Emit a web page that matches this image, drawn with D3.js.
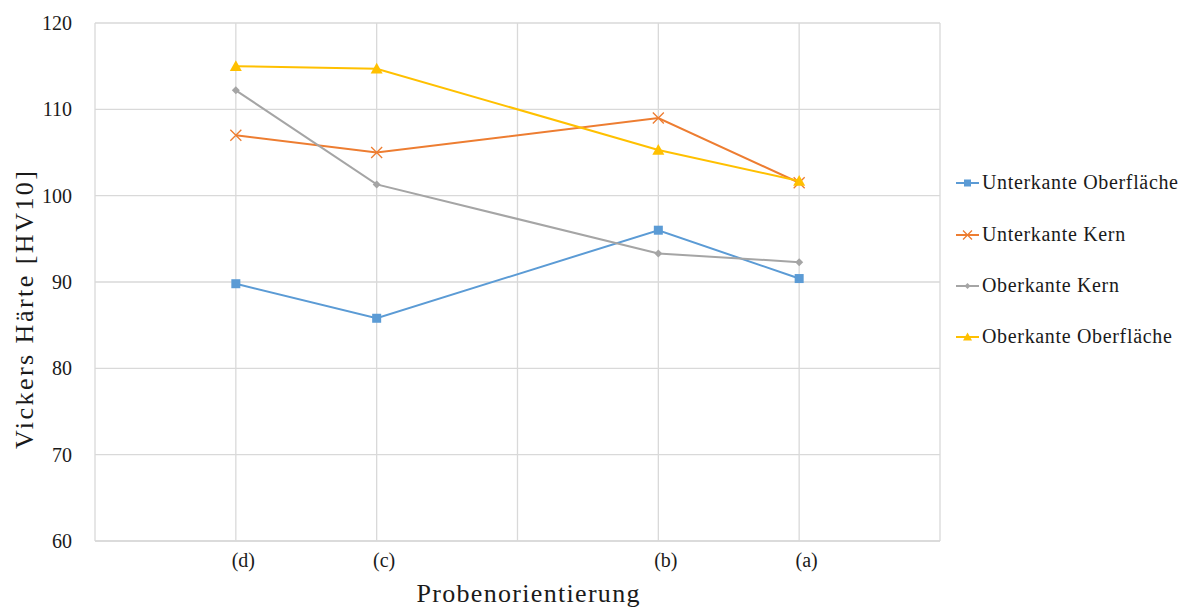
<!DOCTYPE html>
<html><head><meta charset="utf-8">
<script src="https://cdn.jsdelivr.net/npm/d3@7"></script>
<style>
html,body{margin:0;padding:0;background:#fff;}
svg{display:block;}
text{font-family:"Liberation Serif","Times New Roman",serif;fill:#1a1a1a;}
</style></head>
<body>
<svg id="chart" width="1181" height="608"></svg>
<script>
const categories = ["(d)", "(c)", "(b)", "(a)"];
const xValues = [1, 2, 4, 5];
const seriesNames = ["Unterkante Oberfläche", "Unterkante Kern", "Oberkante Kern", "Oberkante Oberfläche"];
const unterkanteOberflaeche = [89.8, 85.8, 96.0, 90.4];
const unterkanteKern = [107.0, 105.0, 109.0, 101.5];
const oberkanteKern = [112.2, 101.3, 93.3, 92.3];
const oberkanteOberflaeche = [115.0, 114.7, 105.3, 101.7];
const yTicks = [60, 70, 80, 90, 100, 110, 120];
const xGrid = [0, 1, 2, 3, 4, 5, 6];
const colors = ["#5B9BD5", "#ED7D31", "#A5A5A5", "#FFC000"];
const markers = ["square", "cross", "diamond", "triangle"];

const allSeries = [unterkanteOberflaeche, unterkanteKern, oberkanteKern, oberkanteOberflaeche];

const svg = d3.select("#chart");
const m = {left: 95, right: 940, top: 23, bottom: 541};
const x = d3.scaleLinear().domain([0, 6]).range([m.left, m.right]);
const y = d3.scaleLinear().domain([60, 120]).range([m.bottom, m.top]);

// spread text to a target width (emulating the wider original serif face)
function fitWidth(sel, target) {
  const node = sel.node();
  const n = sel.text().length;
  const w = node.getComputedTextLength();
  const sp = Math.max(0, (target - w) / Math.max(1, n - 1));
  sel.style("letter-spacing", sp + "px");
  return sp;
}

// grid
svg.append("g").selectAll("line").data(yTicks).join("line")
  .attr("x1", m.left).attr("x2", m.right)
  .attr("y1", d => y(d)).attr("y2", d => y(d))
  .attr("stroke", d => d === 60 ? "#cfcfcf" : "#d9d9d9").attr("stroke-width", 1.3);
svg.append("g").selectAll("line").data(xGrid).join("line")
  .attr("x1", d => x(d)).attr("x2", d => x(d))
  .attr("y1", m.top).attr("y2", m.bottom)
  .attr("stroke", "#d9d9d9").attr("stroke-width", 1.3);

// y axis labels
const yAxis = d3.axisLeft(y).tickValues(yTicks).tickSize(0).tickPadding(23);
const gy = svg.append("g").attr("transform", `translate(${m.left},0)`).call(yAxis);
gy.select(".domain").remove();
gy.selectAll("text").style("font-size", "20px").attr("fill", "#1a1a1a")
  .style("font-family", '"Liberation Serif",serif');

// x axis labels
const gx = svg.append("g").attr("transform", `translate(0,${m.bottom})`)
  .call(d3.axisBottom(x).tickValues(xValues).tickFormat((d, i) => categories[i]).tickSize(0).tickPadding(12));
gx.select(".domain").remove();
gx.selectAll("text").style("font-size", "20px").attr("fill", "#1a1a1a")
  .attr("dx", 7)
  .style("font-family", '"Liberation Serif",serif');

// titles
const xt = svg.append("text").attr("x", 528).attr("y", 602)
  .attr("text-anchor", "middle").style("font-size", "26px")
  .text("Probenorientierung");
const spx = fitWidth(xt, 223);
xt.attr("dx", spx / 2);
const yt = svg.append("text").attr("transform", `translate(33,310) rotate(-90)`)
  .attr("text-anchor", "middle").style("font-size", "26px")
  .text("Vickers Härte [HV10]");
const spy = fitWidth(yt, 278);
yt.attr("dx", spy / 2);

function drawMarker(g, type, color, cx, cy, s) {
  if (type === "square") {
    g.append("rect").attr("x", cx - s/2).attr("y", cy - s/2).attr("width", s).attr("height", s).attr("fill", color);
  } else if (type === "cross") {
    const h = s/2;
    g.append("path").attr("d", `M${cx-h},${cy-h}L${cx+h},${cy+h}M${cx-h},${cy+h}L${cx+h},${cy-h}`)
      .attr("stroke", color).attr("stroke-width", 1.3).attr("fill", "none");
  } else if (type === "diamond") {
    const h = s/2;
    g.append("path").attr("d", `M${cx},${cy-h}L${cx+h},${cy}L${cx},${cy+h}L${cx-h},${cy}Z`).attr("fill", color);
  } else if (type === "triangle") {
    const h = s/2;
    g.append("path").attr("d", `M${cx},${cy-h}L${cx+h},${cy+h*0.8}L${cx-h},${cy+h*0.8}Z`).attr("fill", color);
  }
}
const sizes = {square: 9, cross: 11, diamond: 8, triangle: 12};

const line = d3.line().x((d, i) => x(xValues[i])).y(d => y(d));
allSeries.forEach((vals, si) => {
  const g = svg.append("g");
  g.append("path").datum(vals).attr("d", line).attr("fill", "none")
    .attr("stroke", colors[si]).attr("stroke-width", 2);
  vals.forEach((v, i) => drawMarker(g, markers[si], colors[si], x(xValues[i]), y(v), sizes[markers[si]]));
});

// legend
const legY = [183, 235, 286, 337];
const legTexts = [];
seriesNames.forEach((name, i) => {
  const g = svg.append("g");
  const ly = legY[i];
  g.append("line").attr("x1", 956).attr("x2", 979).attr("y1", ly).attr("y2", ly)
    .attr("stroke", colors[i]).attr("stroke-width", 2);
  const s = {square: 7, cross: 9, diamond: 6, triangle: 9}[markers[i]];
  drawMarker(g, markers[i], colors[i], 967.5, ly, s);
  legTexts.push(g.append("text").attr("x", 982).attr("y", ly + 6).style("font-size", "20px").text(name));
});
const spl = fitWidth(legTexts[0], 196);
legTexts.forEach(t => t.style("letter-spacing", spl + "px"));
</script>
</body></html>
